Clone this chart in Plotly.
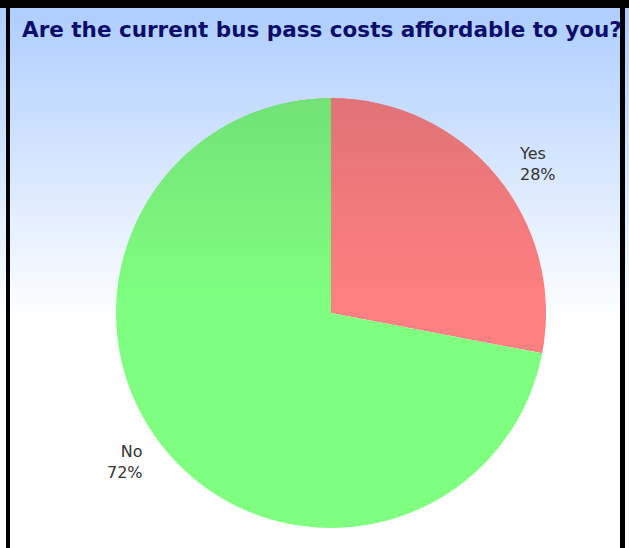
import math
import plotly.graph_objects as go

# ---- data ----
labels = ["Yes", "No"]
values = [28, 72]
slice_colors = ["#FF8080", "#80FF80"]
title_text = "Are the current bus pass costs affordable to you?"

W, H = 629, 548
CX, CY, R = 331, 313, 215  # pie centre / radius in px

fig = go.Figure()

fig.add_trace(go.Pie(
    labels=labels,
    values=values,
    sort=False,
    direction="clockwise",
    rotation=0,
    marker=dict(colors=slice_colors, line=dict(width=0)),
    textinfo="none",
    hoverinfo="label+percent",
    showlegend=False,
    domain=dict(x=[(CX - R) / W, (CX + R) / W],
                y=[1 - (CY + R) / H, 1 - (CY - R) / H]),
))

shapes = []
# background gradient (blue at top to white)
top_c = (174, 206, 255)
g_top, g_bot = 8, 320
step = 4
y = g_top
while y < g_bot:
    t = (y - g_top) / (g_bot - g_top)
    c = tuple(round(top_c[i] + (255 - top_c[i]) * t) for i in range(3))
    shapes.append(dict(type="rect", xref="paper", yref="paper", layer="below",
                       x0=0, x1=1, y0=1 - (y + step) / H, y1=1 - y / H,
                       line=dict(width=0), fillcolor="rgb(%d,%d,%d)" % c))
    y += step

# darkening tint on upper part of pie
t_top, t_bot = CY - R, 300
ystep = 1
y = t_top
while y < t_bot:
    ya, yb = y, y + ystep
    dy = abs((ya + yb) / 2 - CY)
    if dy < R:
        half = math.sqrt(R * R - dy * dy)
        t = (y - t_top) / (t_bot - t_top)
        a = 0.13 * (1 - t)
        shapes.append(dict(type="rect", xref="paper", yref="paper", layer="above",
                           x0=(CX - half) / W, x1=(CX + half) / W,
                           y0=1 - yb / H, y1=1 - ya / H,
                           line=dict(width=0), fillcolor="rgba(20,30,60,%.3f)" % a))
    y += ystep

# frame
for x0, x1, y0, y1 in [(0, W, 0, 8), (6, 10, 0, H), (620, 625, 0, H)]:
    shapes.append(dict(type="rect", xref="paper", yref="paper", layer="above",
                       x0=x0 / W, x1=x1 / W, y0=1 - y1 / H, y1=1 - y0 / H,
                       line=dict(width=0), fillcolor="black"))

annotations = [dict(text="<b>%s</b>" % title_text, xref="paper", yref="paper",
                    x=322 / W, y=1 - 30 / H, xanchor="center", yanchor="middle",
                    showarrow=False,
                    font=dict(family="DejaVu Sans", size=21.5, color="#0c0c6a"))]

# outside labels placed along each slice's mid angle
total = sum(values)
cum = 0
LRX, LRY = 242, 233
for lab, v in zip(labels, values):
    mid = (cum + v / 2) / total * 2 * math.pi
    cum += v
    px = CX + LRX * math.sin(mid)
    py = CY - LRY * math.cos(mid)
    right = math.sin(mid) >= 0
    annotations.append(dict(
        text="%s<br>%d%%" % (lab, round(v / total * 100)),
        xref="paper", yref="paper", x=px / W, y=1 - py / H,
        xanchor="left" if right else "right", yanchor="middle",
        align="left" if right else "right", showarrow=False,
        font=dict(family="DejaVu Sans", size=16, color="#333333")))

fig.update_layout(
    width=W, height=H,
    margin=dict(l=0, r=0, t=0, b=0),
    paper_bgcolor="white",
    plot_bgcolor="white",
    shapes=shapes,
    annotations=annotations,
)

fig.write_html("out.html",
               config={"displayModeBar": False},
               post_script="document.body.style.margin='0px';"
                           "document.body.style.overflow='hidden';")
